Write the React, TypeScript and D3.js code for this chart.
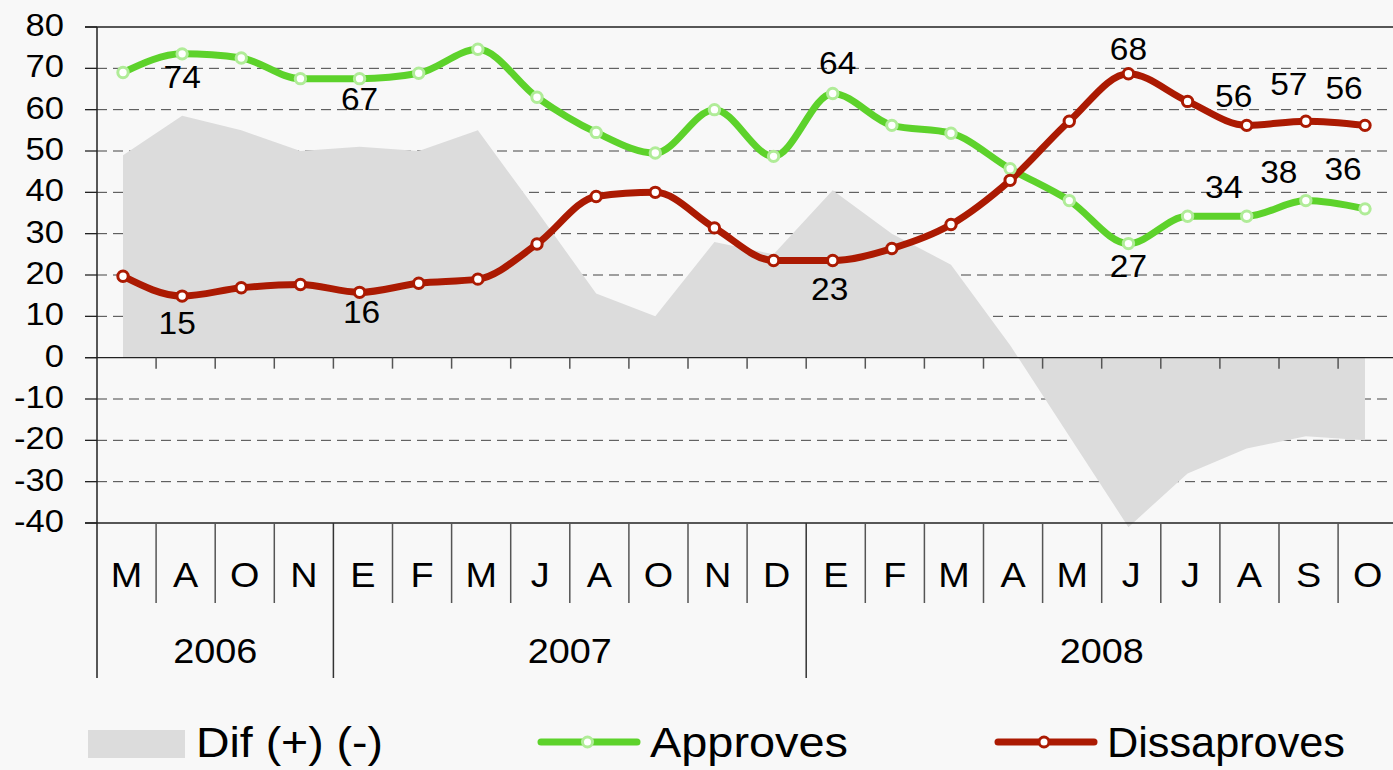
import * as React from "react";
import * as d3 from "d3";

const months = ["M", "A", "O", "N", "E", "F", "M", "J", "A", "O", "N", "D", "E", "F", "M", "A", "M", "J", "J", "A", "S", "O"];
const years = ["2006", "2007", "2008"];
const yearSpans = [4, 8, 10];

const approves = [69, 73.5, 72.5, 67.5, 67.5, 68.8, 74.6, 63, 54.5, 49.5, 60, 48.7, 63.9, 56.2, 54.3, 45.7, 38, 27.6, 34.2, 34.2, 38, 36];
const dissaproves = [19.7, 14.9, 16.9, 17.7, 15.8, 18, 19, 27.5, 39, 40, 31.4, 23.5, 23.5, 26.4, 32.2, 42.9, 57.2, 68.7, 62, 56.2, 57.2, 56.2];
const diff = [49, 58.5, 55, 50, 51, 50, 55, 35.5, 15.5, 10, 28, 25, 40.5, 30, 22.5, 3, -19, -41, -28, -22, -19, -20];

const yTicks = [80, 70, 60, 50, 40, 30, 20, 10, 0, -10, -20, -30, -40];

// value labels shown on the chart: [index, text]
const approvesLabels: [number, string][] = [[1, "74"], [4, "67"], [12, "64"], [17, "27"], [19, "34"], [20, "38"], [21, "36"]];
const dissLabels: [number, string][] = [[1, "15"], [4, "16"], [12, "23"], [17, "68"], [19, "56"], [20, "57"], [21, "56"]];

// label offsets from the marker (layout only)
const approvesOffsets = [[0, 34], [0, 31], [5, -20], [0, 33], [-23, -18], [-27, -18], [-22, -29]];
const dissOffsets = [[-5, 38], [2, 31], [-3, 39], [0, -14], [-13, -18], [-17, -26], [-21, -26]];

const GREEN = "#5dd22b";
const GREEN_LIGHT = "#b0ec98";
const RED = "#ab1a02";
const AREA = "#dcdcdc";
const FONT = "'Liberation Sans', Arial, sans-serif";

// text slightly stretched horizontally, like the original
const Txt = ({ x, y, anchor = "middle", size, children }: any) => (
  <text transform={`translate(${x},${y}) scale(1.08,1)`} textAnchor={anchor} fontSize={size} fill="#000">
    {children}
  </text>
);

export default function App() {
  const width = 1393;
  const height = 770;
  const left = 97;
  const yAxisBottom = 678;

  const idx = months.map((_, i) => i);
  const xBand = d3.scaleBand<number>().domain(idx).range([left, left + 22 * 59.1]).padding(0);
  const xPt = d3.scalePoint<number>().domain(idx).range([123, 1365]);
  const y = d3.scaleLinear().domain([-40, 80]).range([523, 27]);

  const lineGen = d3
    .line<number>()
    .x((_, i) => xPt(i)!)
    .y((d) => y(d))
    .curve(d3.curveMonotoneX);

  const areaGen = d3
    .area<number>()
    .x((_, i) => xPt(i)!)
    .y0(y(0))
    .y1((d) => y(d));

  // year boundaries
  const yearBounds: number[] = [0];
  yearSpans.forEach((s, i) => yearBounds.push(yearBounds[i] + s));
  const bandEnd = (k: number) => (k >= months.length ? xBand.range()[1] : xBand(k)!);

  return (
    <svg width={width} height={height} style={{ position: "absolute", left: 0, top: 0 }} fontFamily={FONT}>
      <rect x={0} y={0} width={width} height={height} fill="#f8f8f8" />

      {/* dashed gridlines */}
      {yTicks
        .filter((t) => t !== 80 && t !== 0 && t !== -40)
        .map((t) => (
          <line key={"g" + t} x1={left} x2={width} y1={y(t)} y2={y(t)} stroke="#444" strokeWidth={1} strokeDasharray="10,6" />
        ))}

      {/* difference area */}
      <path d={areaGen(diff)!} fill={AREA} />

      {/* solid lines */}
      {[80, 0, -40].map((t) => (
        <line key={"s" + t} x1={85} x2={width} y1={y(t)} y2={y(t)} stroke="#222" strokeWidth={1.3} />
      ))}

      {/* y ticks and labels */}
      {yTicks.map((t) => (
        <g key={"t" + t}>
          <line x1={85} x2={left} y1={y(t)} y2={y(t)} stroke="#222" strokeWidth={1.3} />
          <Txt x={64} y={y(t) + 9} anchor="end" size={32}>
            {t}
          </Txt>
        </g>
      ))}

      {/* small ticks on the zero line */}
      {idx.slice(1).map((i) => (
        <line key={"zt" + i} x1={xBand(i)} x2={xBand(i)} y1={y(0)} y2={y(0) + 11} stroke="#555" strokeWidth={1.5} />
      ))}

      {/* lines */}
      <path d={lineGen(approves)!} fill="none" stroke={GREEN} strokeWidth={7} strokeLinejoin="round" />
      <path d={lineGen(dissaproves)!} fill="none" stroke={RED} strokeWidth={7} strokeLinejoin="round" />

      {approves.map((d, i) => (
        <circle key={"am" + i} cx={xPt(i)} cy={y(d)} r={5.2} fill="#fff" stroke={GREEN_LIGHT} strokeWidth={3} />
      ))}
      {dissaproves.map((d, i) => (
        <circle key={"dm" + i} cx={xPt(i)} cy={y(d)} r={5.2} fill="#fff" stroke={RED} strokeWidth={3} />
      ))}

      {/* value labels */}
      {approvesLabels.map(([i, txt], k) => (
        <Txt key={"al" + k} x={xPt(i)! + approvesOffsets[k][0]} y={y(approves[i]) + approvesOffsets[k][1]} size={31}>
          {txt}
        </Txt>
      ))}
      {dissLabels.map(([i, txt], k) => (
        <Txt key={"dl" + k} x={xPt(i)! + dissOffsets[k][0]} y={y(dissaproves[i]) + dissOffsets[k][1]} size={31}>
          {txt}
        </Txt>
      ))}

      {/* category table */}
      <line x1={left} x2={left} y1={27} y2={yAxisBottom} stroke="#222" strokeWidth={1.5} />
      {idx.slice(1).map((i) =>
        yearBounds.includes(i) ? null : (
          <line key={"cs" + i} x1={xBand(i)} x2={xBand(i)} y1={y(-40)} y2={603} stroke="#555" strokeWidth={1.5} />
        )
      )}
      {yearBounds.slice(1, -1).map((b) => (
        <line key={"ys" + b} x1={xBand(b)} x2={xBand(b)} y1={y(-40)} y2={yAxisBottom} stroke="#333" strokeWidth={1.5} />
      ))}
      {months.map((m, i) => (
        <Txt key={"m" + i} x={xBand(i)! + xBand.bandwidth() / 2} y={587} size={35}>
          {m}
        </Txt>
      ))}
      {years.map((yr, k) => (
        <Txt key={yr} x={(bandEnd(yearBounds[k]) + bandEnd(yearBounds[k + 1])) / 2} y={663} size={35}>
          {yr}
        </Txt>
      ))}

      {/* legend */}
      <rect x={88} y={730} width={97} height={28} fill={AREA} />
      <text x={196} y={757} fontSize={42} textLength={187} lengthAdjust="spacingAndGlyphs">
        Dif (+) (-)
      </text>
      <line x1={541} x2={637} y1={742} y2={742} stroke={GREEN} strokeWidth={7} strokeLinecap="round" />
      <circle cx={587.5} cy={742} r={5} fill="#fff" stroke={GREEN_LIGHT} strokeWidth={3} />
      <text x={650} y={757} fontSize={42} textLength={198} lengthAdjust="spacingAndGlyphs">
        Approves
      </text>
      <line x1={998} x2={1094} y1={742} y2={742} stroke={RED} strokeWidth={7} strokeLinecap="round" />
      <circle cx={1044} cy={742} r={5} fill="#fff" stroke={RED} strokeWidth={3} />
      <text x={1107} y={757} fontSize={42} textLength={238} lengthAdjust="spacingAndGlyphs">
        Dissaproves
      </text>
    </svg>
  );
}
